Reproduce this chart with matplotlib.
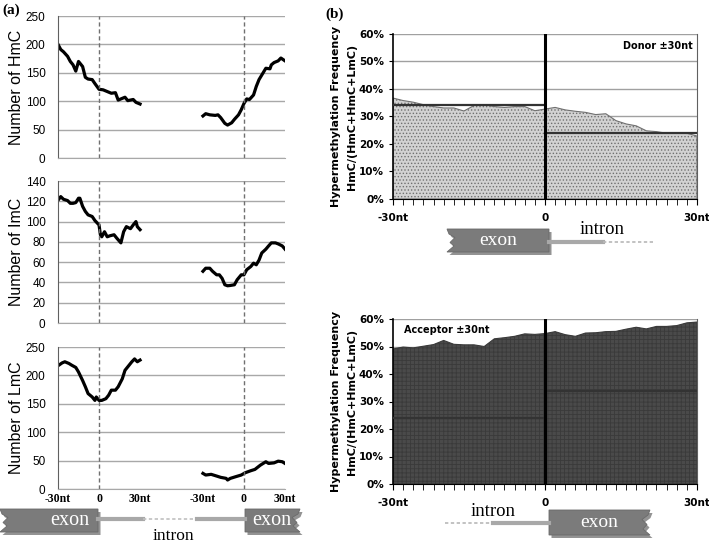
import matplotlib
matplotlib.use("Agg")
import matplotlib.pyplot as plt
import numpy as np
from matplotlib.patches import Polygon
from matplotlib.ticker import PercentFormatter, MultipleLocator

# ---------------- data: panel (a) ----------------
hmc_donor_nt = [-30,-28,-26,-23,-21,-19,-17,-15,-12,-10,-8,-5,-3,0,3,6,9,12,14,17,19,21,23,25,27,30]
hmc_donor = [200,191,187,179,170,164,153,170,161,142,139,138,131,121,120,117,114,115,102,105,107,101,102,103,98,95]
hmc_acc_nt = [-30,-28,-25,-21,-19,-17,-14,-12,-9,-7,-4,-2,0,2,4,7,9,11,14,16,19,20,22,25,27,30]
hmc_acc = [74,78,76,75,76,71,61,58,62,68,76,85,96,104,103,111,126,138,150,158,157,164,168,171,176,171]

imc_donor_nt = [-30,-28,-26,-23,-21,-19,-17,-15,-14,-12,-10,-8,-5,-3,0,1,2,4,6,8,11,13,16,18,20,23,25,27,28,30]
imc_donor = [121,124.6,122,120.7,118,118,118.7,123,123,115,110,106.6,105,101,96.7,87,85,90,85,86,87,83.6,79,90,95,93,96.7,100,95,92]
imc_acc_nt = [-30,-28,-25,-23,-20,-18,-16,-14,-12,-10,-7,-5,-2,0,2,5,7,9,11,13,16,18,20,23,25,28,30]
imc_acc = [51,54,54,51,47.5,47.5,44,37.7,36.7,37,37.7,42.6,47.5,47.5,52.5,55.7,59,57.4,62,69,72.8,76,79,79,78,76,72.8]

lmc_donor_nt = [-30,-27,-25,-22,-20,-17,-15,-12,-10,-8,-5,-3,-2,0,2,5,7,9,12,14,17,19,21,24,26,28,30]
lmc_donor = [217,222,224,221,218,214,206,191,180,168,162,156,162,156,156,159,165,174,174,180,194,209,215,224,229,224,227]
lmc_acc_nt = [-30,-28,-24,-20,-17,-13,-12,-10,-6,-2,1,5,8,12,16,18,22,25,28,30]
lmc_acc = [27.5,24.6,25.8,22.8,20.5,18.7,15.8,18.7,21.7,24.6,28.7,32.2,34.5,42,48,45,46,49,48,45]

a_ylabels = ["Number of HmC", "Number of ImC", "Number of LmC"]
a_ylims = [250, 140, 250]
a_ysteps = [50, 20, 50]
a_xtick_labels = ["-30nt", "0", "30nt", "-30nt", "0", "30nt"]

# ---------------- data: panel (b) ----------------
b_nt = list(range(-30, 31, 2))
donor_freq = [36.7,35.8,35.2,34.3,33.6,33.1,33.1,32.0,34.0,34.3,33.6,33.3,33.6,33.6,32.1,32.7,
              33.3,32.4,31.9,31.5,30.7,31.0,28.5,27.3,26.6,24.8,24.5,23.9,23.9,23.9,22.9]
acceptor_freq = [49.1,49.8,49.5,50.1,50.7,52.2,50.8,50.6,50.6,50.0,52.8,53.2,53.7,54.6,54.4,54.7,
                 55.4,54.3,53.7,54.9,55.0,55.4,55.5,56.3,57.0,56.4,57.3,57.3,57.6,58.6,58.9]
donor_means = [34, 24]      # exon side, intron side
acceptor_means = [24, 34]   # intron side, exon side
b_xtick_labels = ["-30nt", "0", "30nt"]

ACC_OFFSET = 136  # x-position of acceptor site on the shared axis of panel (a)

fig = plt.figure(figsize=(7.09, 5.44), dpi=100)
W, H = 709.0, 544.0

def fr(x0, y0, x1, y1):
    return [x0 / W, 1 - y1 / H, (x1 - x0) / W, (y1 - y0) / H]

a_boxes = [(58, 16, 285, 158), (58, 181, 285, 323), (58, 347, 285, 489)]
a_series = [(hmc_donor_nt, hmc_donor, hmc_acc_nt, hmc_acc),
            (imc_donor_nt, imc_donor, imc_acc_nt, imc_acc),
            (lmc_donor_nt, lmc_donor, lmc_acc_nt, lmc_acc)]

for i, (box, ser) in enumerate(zip(a_boxes, a_series)):
    ax = fig.add_axes(fr(*box))
    dn, dv, an, av = ser
    ax.plot(np.array(dn) + 30, dv, color="black", lw=2.3, solid_joinstyle="round")
    ax.plot(np.array(an) + ACC_OFFSET, av, color="black", lw=2.3, solid_joinstyle="round")
    ax.set_xlim(0, 166)
    ax.set_ylim(0, a_ylims[i])
    ax.yaxis.set_major_locator(MultipleLocator(a_ysteps[i]))
    ax.grid(axis="y", color="#a8a8a8", lw=1.0)
    ax.set_axisbelow(True)
    for s in ["top", "right"]:
        ax.spines[s].set_visible(False)
    ax.spines["bottom"].set_color("#a8a8a8")
    ax.spines["left"].set_color("#606060")
    ax.axvline(30, color="#707070", lw=1.0, ls=(0, (3, 2)))
    ax.axvline(ACC_OFFSET, color="#707070", lw=1.0, ls=(0, (3, 2)))
    ax.tick_params(axis="y", length=0, labelsize=8.5, pad=9)
    for t in ax.get_yticklabels():
        t.set_family("Liberation Sans")
    ax.set_ylabel(a_ylabels[i], fontsize=11.5, family="Liberation Sans")
    ax.yaxis.set_label_coords(-0.15, 0.5)
    ax.set_xticks([0, 30, 60, ACC_OFFSET - 30, ACC_OFFSET, ACC_OFFSET + 30])
    if i == 2:
        ax.set_xticklabels(a_xtick_labels, fontsize=8.5, family="Liberation Serif", fontweight="bold")
        ax.tick_params(axis="x", length=0, pad=3)
    else:
        ax.set_xticklabels([])
        ax.tick_params(axis="x", length=0)

# ---------------- panel (b) ----------------
b_boxes = [(393, 34, 697, 199), (393, 319, 697, 484)]
b_data = [(donor_freq, donor_means, "Donor \u00b130nt", "#d2d2d2", "#a9a9a9", "#707070"),
          (acceptor_freq, acceptor_means, "Acceptor \u00b130nt", "#4a4a4a", "#2a2a2a", "#3a3a3a")]
for j, (box, (freq, means, title, fc, hc, lc)) in enumerate(zip(b_boxes, b_data)):
    ax = fig.add_axes(fr(*box))
    y = np.array(freq) / 100.0
    plt.rcParams["hatch.color"] = hc
    plt.rcParams["hatch.linewidth"] = 0.6
    ax.fill_between(b_nt, 0, y, facecolor=fc, edgecolor=lc, lw=0.8,
                    hatch="....." if j == 0 else "++++", zorder=2)
    ax.hlines(means[0] / 100, -30, 0, color="#333333", lw=1.6, zorder=3)
    ax.hlines(means[1] / 100, 0, 30, color="#333333", lw=1.6, zorder=3)
    ax.axvline(0, color="black", lw=2.2, zorder=4)
    ax.set_xlim(-30, 30)
    ax.set_ylim(0, 0.6)
    ax.yaxis.set_major_locator(MultipleLocator(0.1))
    ax.yaxis.set_major_formatter(PercentFormatter(1.0, decimals=0))
    ax.grid(axis="y", color="#a0a0a0", lw=1.0, zorder=0)
    ax.set_axisbelow(True)
    ax.spines["top"].set_visible(False)
    ax.spines["right"].set_color("#606060")
    ax.spines["left"].set_color("black")
    ax.spines["left"].set_linewidth(1.2)
    ax.spines["bottom"].set_color("black")
    ax.set_xticks([-30, 0, 30])
    ax.set_xticklabels(b_xtick_labels)
    ax.xaxis.set_minor_locator(MultipleLocator(2))
    ax.tick_params(axis="x", which="major", length=4, labelsize=7.5, pad=6)
    ax.tick_params(axis="x", which="minor", length=4)
    ax.tick_params(axis="y", length=3, labelsize=7.5)
    for t in ax.get_xticklabels() + ax.get_yticklabels():
        t.set_fontweight("bold")
    ax.set_ylabel("Hypermethylation Frequency\nHmC/(HmC+HmC+LmC)", fontsize=8, fontweight="bold",
                  linespacing=1.8)
    ax.yaxis.set_label_coords(-0.118, 0.5)
    if j == 0:
        ax.text(0.985, 0.93, title, transform=ax.transAxes, ha="right", va="center",
                fontsize=7, fontweight="bold", zorder=5)
    else:
        ax.text(0.035, 0.935, title, transform=ax.transAxes, ha="left", va="center",
                fontsize=7, fontweight="bold", zorder=5)

# ---------------- decorative gene diagrams ----------------
ov = fig.add_axes([0, 0, 1, 1], zorder=10)
ov.set_xlim(0, W)
ov.set_ylim(H, 0)
ov.axis("off")
ov.patch.set_alpha(0)

def exon(x0, x1, y0, y1, notch, tx=None, fs=14):
    m = (y0 + y1) / 2
    if notch == "left":
        pts = [(x0, y0), (x1, y0), (x1, y1), (x0, y1), (x0 + 7, y1 - 6), (x0 + 3, m + 2),
               (x0 + 8, m - 3), (x0 + 2, y0 + 5)]
    else:
        pts = [(x0, y0), (x1, y0), (x1 - 2, y0 + 5), (x1 - 8, m - 3), (x1 - 3, m + 2),
               (x1 - 7, y1 - 6), (x1, y1), (x0, y1)]
    sh = [(px + 2.5, py + 3) for px, py in pts]
    ov.add_patch(Polygon(sh, closed=True, facecolor="#3a3a3a", edgecolor="none", alpha=0.55))
    ov.add_patch(Polygon(pts, closed=True, facecolor="#7b7b7b", edgecolor="#6a6a6a", lw=0.6))
    ov.text((x0 + x1) / 2 if tx is None else tx, m, "exon", color="white", fontsize=fs,
            family="Liberation Serif", ha="center", va="center")

def intron_line(xs, xd, xe, yy, dashed_first=False):
    if dashed_first:
        ov.plot([xs, xd], [yy, yy], color="#b8b8b8", lw=1.2, ls=(0, (2, 1.5)))
        ov.plot([xd, xe], [yy, yy], color="#a8a8a8", lw=3)
    else:
        ov.plot([xs, xd], [yy, yy], color="#a8a8a8", lw=3)
        ov.plot([xd, xe], [yy, yy], color="#b8b8b8", lw=1.2, ls=(0, (2, 1.5)))

# panel (a)
ov.plot([98, 143], [519, 519], color="#a8a8a8", lw=3)
ov.plot([143, 197], [519, 519], color="#c0c0c0", lw=1.2, ls=(0, (2, 1.5)))
ov.plot([197, 245], [519, 519], color="#a8a8a8", lw=3)
exon(0, 98, 509, 532, "left", tx=70, fs=14.5)
exon(245, 300, 509, 532, "right", tx=272, fs=14.5)
ov.text(173, 536, "intron", fontsize=12.5, family="Liberation Serif", ha="center", va="center")

# panel (b) donor
intron_line(549, 603, 653, 242)
exon(447, 549, 229, 252, "left")
ov.text(602, 229, "intron", fontsize=13.5, family="Liberation Serif", ha="center", va="center")

# panel (b) acceptor
intron_line(445, 493, 549, 523, dashed_first=True)
exon(549, 650, 510, 535, "right")
ov.text(493, 511, "intron", fontsize=13.5, family="Liberation Serif", ha="center", va="center")

# panel letters
ov.text(2, 10, "(a)", fontsize=11, fontweight="bold", family="Liberation Serif", ha="left", va="center")
ov.text(325, 14, "(b)", fontsize=11, fontweight="bold", family="Liberation Serif", ha="left", va="center")

fig.savefig("out.png", dpi=100)
